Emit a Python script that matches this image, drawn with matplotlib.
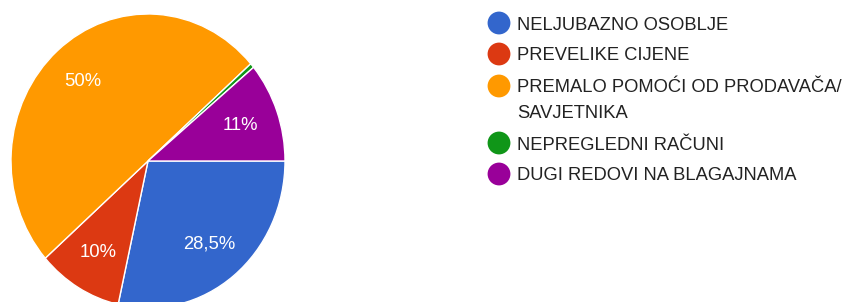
import matplotlib
matplotlib.use("Agg")
import matplotlib.pyplot as plt

labels = ["NELJUBAZNO OSOBLJE", "PREVELIKE CIJENE", "PREMALO POMOĆI OD PRODAVAČA/\nSAVJETNIKA",
          "NEPREGLEDNI RAČUNI", "DUGI REDOVI NA BLAGAJNAMA"]
values = [28.5, 10, 50, 0.5, 11]
colors = ["#3366cc", "#dc3912", "#ff9900", "#109618", "#990099"]

plt.rcParams['font.family'] = ['Liberation Sans', 'DejaVu Sans']

W, H = 846, 302
fig = plt.figure(figsize=(W / 100, H / 100), dpi=100)

# pie axes: x [-1,1] -> px 11..285, y [-1,1] -> px 308..14 (from top)
left_px, right_px, top_px, bot_px = 11, 285, 14, 308
ax = fig.add_axes([left_px / W, (H - bot_px) / H, (right_px - left_px) / W, (bot_px - top_px) / H])


def fmt(p):
    if p < 1:
        return ""
    s = f"{p:.1f}".rstrip("0").rstrip(".")
    return s.replace(".", ",") + "%"


wedges, texts, autotexts = ax.pie(values, colors=colors, startangle=0, counterclock=False,
                                  autopct=fmt, pctdistance=0.72,
                                  wedgeprops=dict(edgecolor="white", linewidth=1.0))
for t in autotexts:
    t.set_color("white")
    t.set_fontsize(13.3)
ax.set_aspect("auto")
ax.set_xlim(-1, 1)
ax.set_ylim(-1, 1)
ax.axis("off")

# legend overlay in pixel coordinates
lax = fig.add_axes([0, 0, 1, 1])
lax.set_xlim(0, W)
lax.set_ylim(H, 0)
lax.axis("off")
row_y = [23, 54, 86, 143, 174]
for y, lab, c in zip(row_y, labels, colors):
    lax.scatter([499], [y], s=270, color=c, edgecolors="none")
    for k, line in enumerate(lab.split("\n")):
        lax.text(517, y + 6.5 + 26 * k, line, fontsize=13.2, color="#222222",
                 va="baseline", ha="left")

fig.savefig("out.png", dpi=100)
